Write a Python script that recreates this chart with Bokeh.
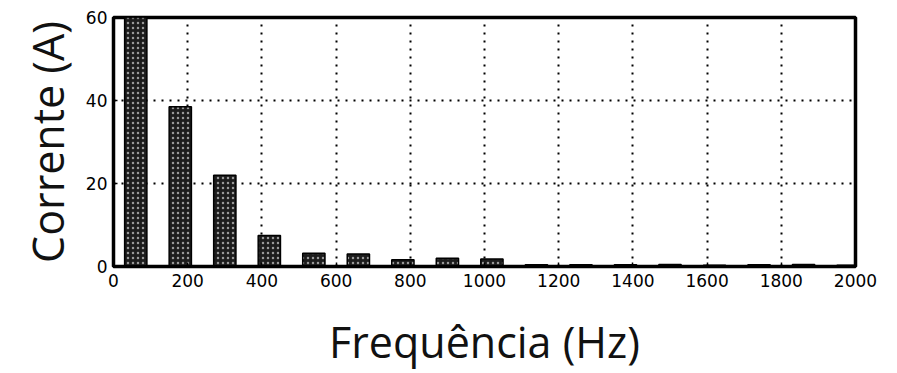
from bokeh.plotting import figure
from bokeh.models import FixedTicker, ColumnDataSource
from bokeh.embed import file_html
from bokeh.resources import INLINE

# Harmonic spectrum of the current (odd harmonics of 60 Hz)
freqs = [60, 180, 300, 420, 540, 660, 780, 900, 1020, 1140, 1260, 1380, 1500, 1620, 1740, 1860, 1980]
amps = [60, 38.5, 22, 7.5, 3.2, 3.0, 1.6, 2.0, 1.8, 0.4, 0.4, 0.4, 0.5, 0.3, 0.4, 0.5, 0.3]
x_ticks = [0, 200, 400, 600, 800, 1000, 1200, 1400, 1600, 1800, 2000]
y_ticks = [0, 20, 40, 60]

src = ColumnDataSource(dict(f=freqs, a=amps))

p = figure(width=897, height=373, output_backend="svg", toolbar_location=None,
           x_range=(0, 2000), y_range=(0, 60),
           min_border_left=113, min_border_right=42, min_border_top=17, min_border_bottom=105)

p.vbar(x="f", top="a", width=60, source=src, fill_color="#1c1c1c",
       line_color="black", line_width=1.5,
       hatch_pattern="dot", hatch_color="white", hatch_scale=5, hatch_weight=1.2, hatch_alpha=0.55)

p.outline_line_color = "black"
p.outline_line_width = 3.5
p.outline_line_alpha = 1.0

for ax in (p.xaxis[0], p.yaxis[0]):
    ax.axis_line_width = 3
    ax.axis_line_color = "black"
    ax.major_tick_in = 4
    ax.major_tick_out = 0
    ax.major_tick_line_width = 1.5
    ax.minor_tick_line_color = None
    ax.major_label_text_font = "DejaVu Sans"
    ax.major_label_text_font_size = "17px"
    ax.major_label_text_color = "black"
    ax.axis_label_text_font = "Open Sans"
    ax.axis_label_text_font_size = "43px"
    ax.axis_label_text_font_style = "normal"
    ax.axis_label_text_color = "#111111"

p.xaxis.ticker = FixedTicker(ticks=x_ticks)
p.yaxis.ticker = FixedTicker(ticks=y_ticks)
p.xaxis.major_label_standoff = 7
p.yaxis.major_label_standoff = 6
p.xaxis.axis_label = "Frequência (Hz)"
p.yaxis.axis_label = "Corrente (A)"
p.xaxis.axis_label_standoff = 22
p.yaxis.axis_label_standoff = 6

for g in (p.xgrid[0], p.ygrid[0]):
    g.grid_line_color = "black"
    g.grid_line_width = 2
    g.grid_line_dash = "2 6"
    g.grid_line_alpha = 1.0
p.xgrid.ticker = FixedTicker(ticks=x_ticks)
p.ygrid.ticker = FixedTicker(ticks=y_ticks)

p.background_fill_color = "white"
p.border_fill_color = "white"

open("out.html", "w").write(file_html(p, INLINE))
